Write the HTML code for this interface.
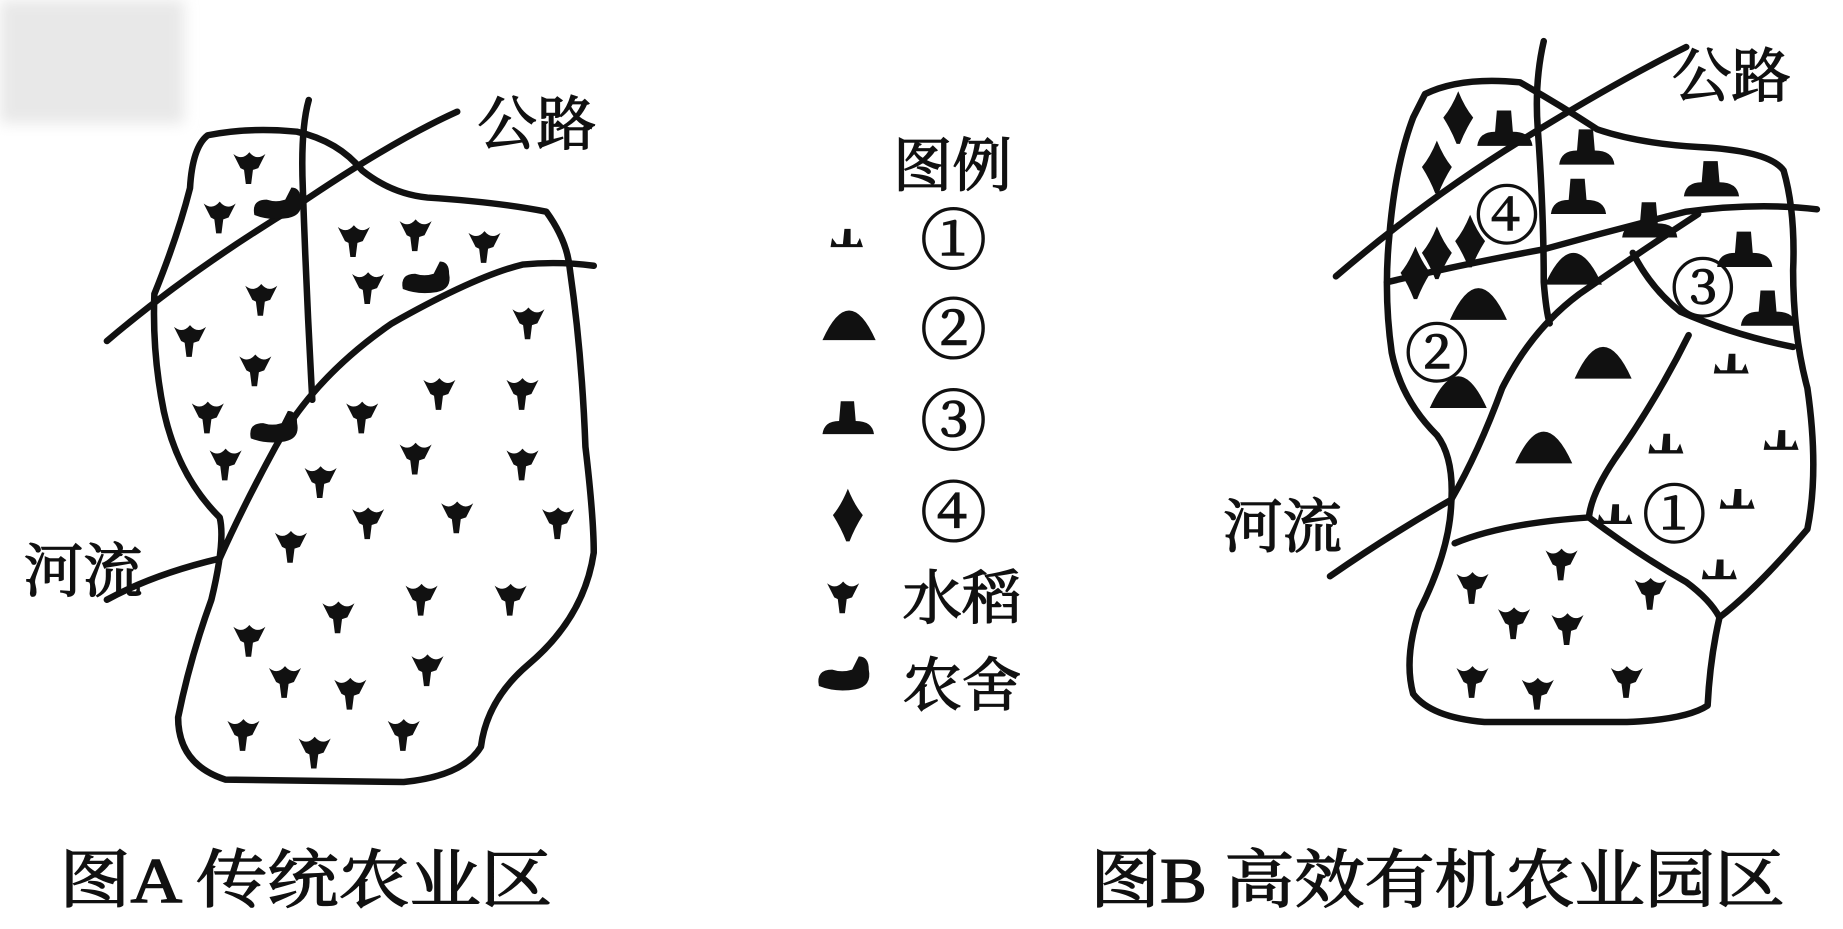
<!DOCTYPE html>
<html><head><meta charset="utf-8"><style>
html,body{margin:0;padding:0;background:#fff;}
svg{display:block;}
text{font-family:"Liberation Serif","Noto Serif CJK SC",serif;fill:#111;stroke:#111;stroke-width:1.2;}
</style></head><body>
<svg width="1843" height="929" viewBox="0 0 1552 790" preserveAspectRatio="none" xmlns="http://www.w3.org/2000/svg">
<defs>
<symbol id="rice" viewBox="-10 -10 20 20" overflow="visible"><path d="M-9,-6 Q-4,-2 0,-7 Q4,-2 9,-6 L5,2 L2,3 L1,11 L-2,11 L-3,3 L-5,2 Z" fill="#111"/></symbol>
<symbol id="s1" viewBox="-10 -10 20 20" overflow="visible"><path d="M-12,4 L-11,-2 L-8,2 L-4,2 L-3,-8 L1,-8 L1,2 L5,2 L7,-2 L9,4 Z" fill="#111"/></symbol>
<symbol id="s2" viewBox="-10 -10 20 20" overflow="visible"><path d="M-16,8 Q-8,-10 0,-10 Q8,-10 16,8 Z" fill="#111"/></symbol>
<symbol id="s3" viewBox="-10 -10 20 20" overflow="visible"><path d="M-16,8 Q-15,0 -6,0 L-5,-12 L3,-12 L4,0 Q14,0 15,8 Z" fill="#111"/></symbol>
<symbol id="s4" viewBox="-10 -10 20 20" overflow="visible"><path d="M0,-16 Q4,-6 9,0 Q4,8 1,16 L-1,16 Q-4,8 -9,0 Q-4,-6 0,-16 Z" fill="#111"/></symbol>
<symbol id="farm" viewBox="-10 -10 20 20" overflow="visible"><path d="M-16,6 Q-18,-4 -8,-4 Q-2,-2 4,-4 L8,-12 Q14,-12 14,-4 Q16,6 6,8 Q-6,10 -16,6 Z" fill="#111"/></symbol>
<filter id="bl"><feGaussianBlur stdDeviation="6"/></filter>
</defs>
<rect x="0" y="0" width="155" height="105" fill="#e8e8e8" filter="url(#bl)"/>
<g fill="none" stroke="#111" stroke-width="5.5" stroke-linecap="round" stroke-linejoin="round">
<path d="M175,115 Q210,108 250,112 Q285,120 305,145 Q330,165 360,168 Q420,172 460,180 Q478,205 480,230 Q490,300 493,380 Q500,440 500,470 Q492,525 445,565 Q410,595 405,635 Q390,660 340,665 L190,663 Q150,650 150,610 Q160,560 178,510 Q190,460 185,440 Q150,405 138,350 Q128,300 130,250 Q150,200 160,160 Q162,125 175,115 Z"/>
<path d="M90,290 Q160,230 250,175 Q330,120 385,95"/>
<path d="M260,85 Q253,110 255,160 Q258,250 263,340"/>
<path d="M90,510 Q130,488 185,475 Q205,430 232,380 Q265,320 330,275 Q400,235 440,225 Q470,222 500,226"/>
<path d="M1200,80 Q1230,65 1280,70 Q1315,90 1345,110 Q1380,122 1430,125 Q1490,128 1502,145 Q1512,180 1510,230 Q1510,285 1522,330 Q1532,400 1522,450 Q1480,500 1448,525 Q1440,560 1438,600 Q1420,612 1370,614 L1250,614 Q1205,610 1190,590 Q1182,560 1195,520 Q1220,470 1222,430 Q1225,390 1210,370 Q1180,340 1172,300 Q1165,250 1170,200 Q1175,140 1190,100 Z"/>
<path d="M1125,235 Q1200,170 1280,120 Q1360,70 1420,40"/>
<path d="M1300,35 Q1292,70 1295,110 Q1300,180 1300,240 Q1302,265 1305,275"/>
<path d="M1168,240 Q1230,225 1300,212 Q1360,195 1420,180 Q1480,172 1530,178"/>
<path d="M1120,490 Q1170,455 1222,425 Q1245,385 1265,330 Q1290,280 1330,250 Q1380,215 1430,182"/>
<path d="M1375,215 Q1390,245 1415,265 Q1460,285 1510,295"/>
<path d="M1422,285 Q1395,340 1360,390 Q1340,420 1338,440 Q1380,472 1420,495 Q1440,510 1448,525"/>
<path d="M1225,462 Q1265,445 1338,440"/>
</g>
<g>
<use href="#rice" transform="translate(210,140) scale(1.5)" x="-10" y="-10" width="20" height="20"/>
<use href="#rice" transform="translate(185,182) scale(1.5)" x="-10" y="-10" width="20" height="20"/>
<use href="#rice" transform="translate(298,202) scale(1.5)" x="-10" y="-10" width="20" height="20"/>
<use href="#rice" transform="translate(350,197) scale(1.5)" x="-10" y="-10" width="20" height="20"/>
<use href="#rice" transform="translate(408,207) scale(1.5)" x="-10" y="-10" width="20" height="20"/>
<use href="#rice" transform="translate(310,242) scale(1.5)" x="-10" y="-10" width="20" height="20"/>
<use href="#rice" transform="translate(445,272) scale(1.5)" x="-10" y="-10" width="20" height="20"/>
<use href="#rice" transform="translate(220,252) scale(1.5)" x="-10" y="-10" width="20" height="20"/>
<use href="#rice" transform="translate(160,287) scale(1.5)" x="-10" y="-10" width="20" height="20"/>
<use href="#rice" transform="translate(215,312) scale(1.5)" x="-10" y="-10" width="20" height="20"/>
<use href="#rice" transform="translate(370,332) scale(1.5)" x="-10" y="-10" width="20" height="20"/>
<use href="#rice" transform="translate(440,332) scale(1.5)" x="-10" y="-10" width="20" height="20"/>
<use href="#rice" transform="translate(175,352) scale(1.5)" x="-10" y="-10" width="20" height="20"/>
<use href="#rice" transform="translate(305,352) scale(1.5)" x="-10" y="-10" width="20" height="20"/>
<use href="#rice" transform="translate(350,387) scale(1.5)" x="-10" y="-10" width="20" height="20"/>
<use href="#rice" transform="translate(190,392) scale(1.5)" x="-10" y="-10" width="20" height="20"/>
<use href="#rice" transform="translate(440,392) scale(1.5)" x="-10" y="-10" width="20" height="20"/>
<use href="#rice" transform="translate(270,407) scale(1.5)" x="-10" y="-10" width="20" height="20"/>
<use href="#rice" transform="translate(310,442) scale(1.5)" x="-10" y="-10" width="20" height="20"/>
<use href="#rice" transform="translate(385,437) scale(1.5)" x="-10" y="-10" width="20" height="20"/>
<use href="#rice" transform="translate(470,442) scale(1.5)" x="-10" y="-10" width="20" height="20"/>
<use href="#rice" transform="translate(245,462) scale(1.5)" x="-10" y="-10" width="20" height="20"/>
<use href="#rice" transform="translate(355,507) scale(1.5)" x="-10" y="-10" width="20" height="20"/>
<use href="#rice" transform="translate(430,507) scale(1.5)" x="-10" y="-10" width="20" height="20"/>
<use href="#rice" transform="translate(210,542) scale(1.5)" x="-10" y="-10" width="20" height="20"/>
<use href="#rice" transform="translate(285,522) scale(1.5)" x="-10" y="-10" width="20" height="20"/>
<use href="#rice" transform="translate(240,577) scale(1.5)" x="-10" y="-10" width="20" height="20"/>
<use href="#rice" transform="translate(295,587) scale(1.5)" x="-10" y="-10" width="20" height="20"/>
<use href="#rice" transform="translate(360,567) scale(1.5)" x="-10" y="-10" width="20" height="20"/>
<use href="#rice" transform="translate(205,622) scale(1.5)" x="-10" y="-10" width="20" height="20"/>
<use href="#rice" transform="translate(265,637) scale(1.5)" x="-10" y="-10" width="20" height="20"/>
<use href="#rice" transform="translate(340,622) scale(1.5)" x="-10" y="-10" width="20" height="20"/>
<use href="#farm" transform="translate(235,175) scale(1.3)" x="-10" y="-10" width="20" height="20"/>
<use href="#farm" transform="translate(360,238) scale(1.3)" x="-10" y="-10" width="20" height="20"/>
<use href="#farm" transform="translate(232,365) scale(1.3)" x="-10" y="-10" width="20" height="20"/>
</g>
<text x="752" y="158" font-size="50">图例</text>
<use href="#s1" transform="translate(715,205) scale(1.3)" x="-10" y="-10" width="20" height="20"/>
<use href="#s2" transform="translate(715,278) scale(1.4)" x="-10" y="-10" width="20" height="20"/>
<use href="#s3" transform="translate(715,358) scale(1.4)" x="-10" y="-10" width="20" height="20"/>
<use href="#s4" transform="translate(714,438) scale(1.4)" x="-10" y="-10" width="20" height="20"/>
<use href="#rice" transform="translate(710,505) scale(1.5)" x="-10" y="-10" width="20" height="20"/>
<use href="#farm" transform="translate(712,575) scale(1.4)" x="-10" y="-10" width="20" height="20"/>
<text x="775" y="224" font-size="56">①</text>
<text x="775" y="300" font-size="56">②</text>
<text x="775" y="378" font-size="56">③</text>
<text x="775" y="456" font-size="56">④</text>
<text x="760" y="526" font-size="50">水稻</text>
<text x="760" y="600" font-size="50">农舍</text>
<g>
<use href="#s4" transform="translate(1228,100) scale(1.4)" x="-10" y="-10" width="20" height="20"/>
<use href="#s4" transform="translate(1210,142) scale(1.4)" x="-10" y="-10" width="20" height="20"/>
<use href="#s4" transform="translate(1192,232) scale(1.4)" x="-10" y="-10" width="20" height="20"/>
<use href="#s4" transform="translate(1238,205) scale(1.4)" x="-10" y="-10" width="20" height="20"/>
<use href="#s4" transform="translate(1210,215) scale(1.4)" x="-10" y="-10" width="20" height="20"/>
<use href="#s3" transform="translate(1268,112) scale(1.5)" x="-10" y="-10" width="20" height="20"/>
<use href="#s3" transform="translate(1337,128) scale(1.5)" x="-10" y="-10" width="20" height="20"/>
<use href="#s3" transform="translate(1330,170) scale(1.5)" x="-10" y="-10" width="20" height="20"/>
<use href="#s3" transform="translate(1442,155) scale(1.5)" x="-10" y="-10" width="20" height="20"/>
<use href="#s3" transform="translate(1470,215) scale(1.5)" x="-10" y="-10" width="20" height="20"/>
<use href="#s3" transform="translate(1390,190) scale(1.5)" x="-10" y="-10" width="20" height="20"/>
<use href="#s3" transform="translate(1490,265) scale(1.5)" x="-10" y="-10" width="20" height="20"/>
<use href="#s2" transform="translate(1325,230) scale(1.5)" x="-10" y="-10" width="20" height="20"/>
<use href="#s2" transform="translate(1245,260) scale(1.5)" x="-10" y="-10" width="20" height="20"/>
<use href="#s2" transform="translate(1228,335) scale(1.5)" x="-10" y="-10" width="20" height="20"/>
<use href="#s2" transform="translate(1350,310) scale(1.5)" x="-10" y="-10" width="20" height="20"/>
<use href="#s2" transform="translate(1300,382) scale(1.5)" x="-10" y="-10" width="20" height="20"/>
<use href="#s1" transform="translate(1460,312) scale(1.4)" x="-10" y="-10" width="20" height="20"/>
<use href="#s1" transform="translate(1405,380) scale(1.4)" x="-10" y="-10" width="20" height="20"/>
<use href="#s1" transform="translate(1502,377) scale(1.4)" x="-10" y="-10" width="20" height="20"/>
<use href="#s1" transform="translate(1465,427) scale(1.4)" x="-10" y="-10" width="20" height="20"/>
<use href="#s1" transform="translate(1362,440) scale(1.4)" x="-10" y="-10" width="20" height="20"/>
<use href="#s1" transform="translate(1450,487) scale(1.4)" x="-10" y="-10" width="20" height="20"/>
<use href="#rice" transform="translate(1240,497) scale(1.5)" x="-10" y="-10" width="20" height="20"/>
<use href="#rice" transform="translate(1315,477) scale(1.5)" x="-10" y="-10" width="20" height="20"/>
<use href="#rice" transform="translate(1390,502) scale(1.5)" x="-10" y="-10" width="20" height="20"/>
<use href="#rice" transform="translate(1275,527) scale(1.5)" x="-10" y="-10" width="20" height="20"/>
<use href="#rice" transform="translate(1320,532) scale(1.5)" x="-10" y="-10" width="20" height="20"/>
<use href="#rice" transform="translate(1240,577) scale(1.5)" x="-10" y="-10" width="20" height="20"/>
<use href="#rice" transform="translate(1295,587) scale(1.5)" x="-10" y="-10" width="20" height="20"/>
<use href="#rice" transform="translate(1370,577) scale(1.5)" x="-10" y="-10" width="20" height="20"/>
</g>
<text x="1242" y="203" font-size="54">④</text>
<text x="1407" y="265" font-size="54">③</text>
<text x="1183" y="320" font-size="54">②</text>
<text x="1383" y="457" font-size="54">①</text>
<text x="402" y="123" font-size="50">公路</text>
<text x="20" y="503" font-size="50">河流</text>
<text x="1408" y="82" font-size="50">公路</text>
<text x="1030" y="465" font-size="50">河流</text>
<text x="50" y="767" font-size="54" textLength="415" lengthAdjust="spacingAndGlyphs">图A  传统农业区</text>
<text x="918" y="767" font-size="54" textLength="585" lengthAdjust="spacingAndGlyphs">图B  高效有机农业园区</text>
</svg>
</body></html>
